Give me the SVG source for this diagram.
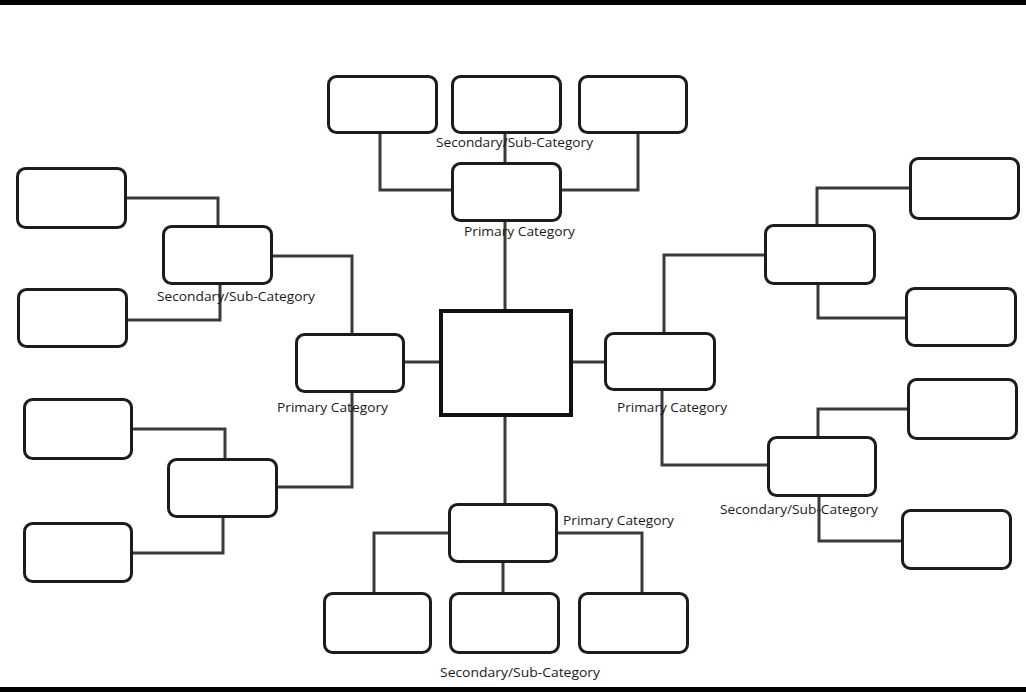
<svg xmlns="http://www.w3.org/2000/svg" width="1026" height="692" viewBox="0 0 1026 692">
<style>
.bx{fill:#fff;stroke:#1c1c1c;stroke-width:3}
.ctr{fill:#fff;stroke:#111;stroke-width:4}
.cn{fill:none;stroke:#3a3a3a;stroke-width:3}
.lb{font-family:"Open Sans","Noto Sans",sans-serif;font-size:13.5px;fill:#1a1a1a}
</style>
<rect x="0" y="0" width="1026" height="692" fill="#fff"/>
<rect x="0" y="0" width="1026" height="5" fill="#000"/>
<rect x="0" y="687" width="1026" height="5" fill="#000"/>
<g id="connectors">
<path class="cn" d="M380,134 V190 H451 M638,134 V190 H562 M505,134 V162 M505,222 V309"/>
<path class="cn" d="M405,362 H439 M352,333 V256 H273 M352,393 V487 H278 M127,198 H218 V225 M220,285 V320 H128 M133,429 H225 V458 M223,518 V553 H133"/>
<path class="cn" d="M573,362 H604 M664,332 V255 H764 M662,391 V465 H767 M817,224 V188 H909 M818,285 V318 H905 M818,436 V409 H907 M819,497 V541 H901"/>
<path class="cn" d="M505,417 V503 M448,533 H374 V592 M558,533 H642 V592 M503,563 V592"/>
</g>
<g id="center"><rect class="ctr" x="441" y="311" width="130" height="104"/></g>
<g id="top-primary"><rect class="bx" x="452.5" y="163.5" width="108" height="57" rx="8"/></g>
<g id="top-sub-1"><rect class="bx" x="328.5" y="76.5" width="108" height="56" rx="8"/></g>
<g id="top-sub-2"><rect class="bx" x="452.5" y="76.5" width="108" height="56" rx="8"/></g>
<g id="top-sub-3"><rect class="bx" x="579.5" y="76.5" width="107" height="56" rx="8"/></g>
<g id="left-primary"><rect class="bx" x="296.5" y="334.5" width="107" height="57" rx="8"/></g>
<g id="left-sec-1"><rect class="bx" x="163.5" y="226.5" width="108" height="57" rx="8"/></g>
<g id="left-sub-1"><rect class="bx" x="17.5" y="168.5" width="108" height="59" rx="8"/></g>
<g id="left-sub-2"><rect class="bx" x="18.5" y="289.5" width="108" height="57" rx="8"/></g>
<g id="left-sec-2"><rect class="bx" x="168.5" y="459.5" width="108" height="57" rx="8"/></g>
<g id="left-sub-3"><rect class="bx" x="24.5" y="399.5" width="107" height="59" rx="8"/></g>
<g id="left-sub-4"><rect class="bx" x="24.5" y="523.5" width="107" height="58" rx="8"/></g>
<g id="right-primary"><rect class="bx" x="605.5" y="333.5" width="109" height="56" rx="8"/></g>
<g id="right-sec-1"><rect class="bx" x="765.5" y="225.5" width="109" height="58" rx="8"/></g>
<g id="right-sub-1"><rect class="bx" x="910.5" y="158.5" width="108" height="60" rx="8"/></g>
<g id="right-sub-2"><rect class="bx" x="906.5" y="288.5" width="109" height="57" rx="8"/></g>
<g id="right-sec-2"><rect class="bx" x="768.5" y="437.5" width="107" height="58" rx="8"/></g>
<g id="right-sub-3"><rect class="bx" x="908.5" y="379.5" width="108" height="59" rx="8"/></g>
<g id="right-sub-4"><rect class="bx" x="902.5" y="510.5" width="108" height="58" rx="8"/></g>
<g id="bottom-primary"><rect class="bx" x="449.5" y="504.5" width="107" height="57" rx="8"/></g>
<g id="bottom-sub-1"><rect class="bx" x="324.5" y="593.5" width="106" height="59" rx="8"/></g>
<g id="bottom-sub-2"><rect class="bx" x="450.5" y="593.5" width="108" height="59" rx="8"/></g>
<g id="bottom-sub-3"><rect class="bx" x="579.5" y="593.5" width="108" height="59" rx="8"/></g>
<g id="labels">
<text class="lb" x="436" y="147" textLength="157" lengthAdjust="spacingAndGlyphs">Secondary/Sub-Category</text>
<text class="lb" x="464" y="236" textLength="111" lengthAdjust="spacingAndGlyphs">Primary Category</text>
<text class="lb" x="157" y="301" textLength="158" lengthAdjust="spacingAndGlyphs">Secondary/Sub-Category</text>
<text class="lb" x="277" y="412" textLength="111" lengthAdjust="spacingAndGlyphs">Primary Category</text>
<text class="lb" x="617" y="412" textLength="110" lengthAdjust="spacingAndGlyphs">Primary Category</text>
<text class="lb" x="720" y="514" textLength="158" lengthAdjust="spacingAndGlyphs">Secondary/Sub-Category</text>
<text class="lb" x="563" y="525" textLength="111" lengthAdjust="spacingAndGlyphs">Primary Category</text>
<text class="lb" x="440" y="677" textLength="160" lengthAdjust="spacingAndGlyphs">Secondary/Sub-Category</text>
</g>
</svg>
